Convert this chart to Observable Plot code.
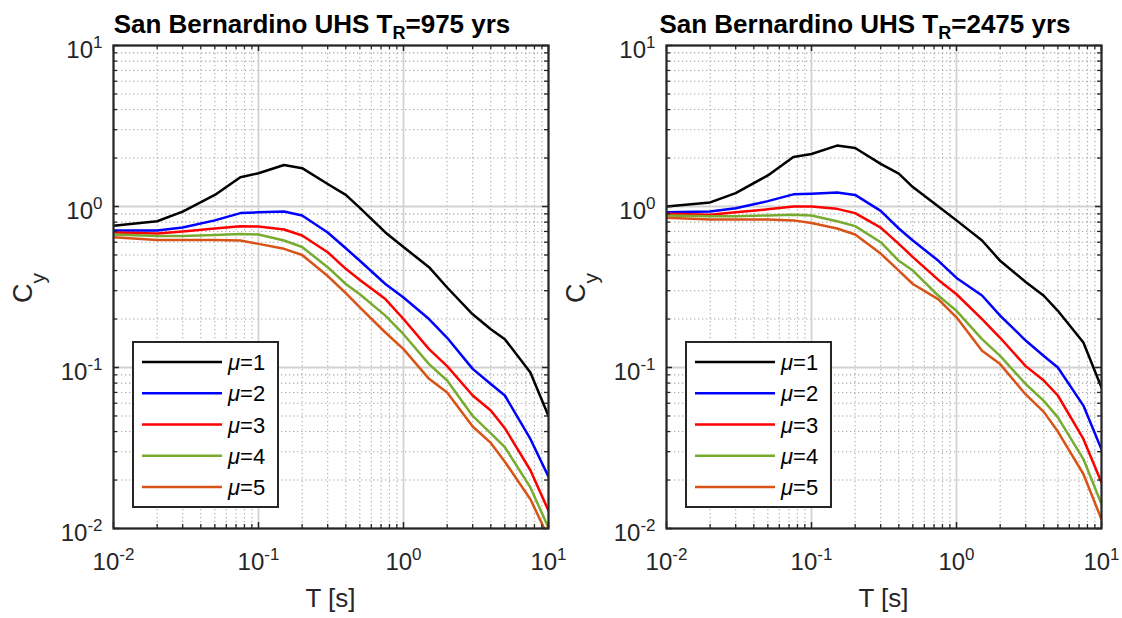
<!DOCTYPE html>
<html>
<head>
<meta charset="utf-8">
<script src="https://cdn.jsdelivr.net/npm/d3@7"></script>
<script src="https://cdn.jsdelivr.net/npm/@observablehq/plot@0.6"></script>
<style>
  body { margin: 0; background: #fff; }
  #wrap { position: relative; width: 1122px; height: 618px; overflow: hidden; background: #fff; }
  .panel { position: absolute; top: 0; }
</style>
</head>
<body>
<div id="wrap"></div>
<script>
// ---------- data ----------
const periods = [0.01, 0.02, 0.03, 0.05, 0.075, 0.1, 0.15, 0.2, 0.3, 0.4, 0.5, 0.75, 1, 1.5, 2, 3, 4, 5, 7.5, 10];
const muLabels = ["μ=1", "μ=2", "μ=3", "μ=4", "μ=5"];
const muColors = ["#000000", "#0000ff", "#ff0000", "#77ac30", "#d95319"];
const decadeTicks = [0.01, 0.1, 1, 10];
const minorMultipliers = [2, 3, 4, 5, 6, 7, 8, 9];
const returnPeriods = ["975", "2475"];

// T_R = 975 yrs
const mu1_975 = [0.76, 0.81, 0.93, 1.18, 1.52, 1.61, 1.81, 1.73, 1.38, 1.18, 0.98, 0.69, 0.56, 0.42, 0.314, 0.214, 0.173, 0.150, 0.093, 0.050];
const mu2_975 = [0.71, 0.71, 0.74, 0.82, 0.91, 0.92, 0.93, 0.88, 0.69, 0.55, 0.46, 0.33, 0.272, 0.20, 0.153, 0.098, 0.079, 0.067, 0.036, 0.021];
const mu3_975 = [0.69, 0.68, 0.70, 0.73, 0.755, 0.75, 0.72, 0.66, 0.52, 0.41, 0.35, 0.266, 0.20, 0.130, 0.102, 0.067, 0.054, 0.042, 0.023, 0.0129];
const mu4_975 = [0.67, 0.655, 0.655, 0.665, 0.676, 0.67, 0.615, 0.56, 0.42, 0.33, 0.285, 0.21, 0.161, 0.105, 0.083, 0.050, 0.039, 0.032, 0.018, 0.0101];
const mu5_975 = [0.645, 0.62, 0.62, 0.62, 0.615, 0.586, 0.546, 0.50, 0.37, 0.29, 0.236, 0.165, 0.13, 0.085, 0.070, 0.043, 0.034, 0.026, 0.0152, 0.0088];

// T_R = 2475 yrs
const mu1_2475 = [1.0, 1.06, 1.21, 1.56, 2.03, 2.12, 2.39, 2.31, 1.84, 1.60, 1.32, 1.0, 0.82, 0.615, 0.46, 0.34, 0.279, 0.225, 0.143, 0.075];
const mu2_2475 = [0.92, 0.93, 0.976, 1.08, 1.19, 1.2, 1.22, 1.18, 0.94, 0.73, 0.615, 0.46, 0.36, 0.28, 0.21, 0.147, 0.118, 0.10, 0.058, 0.031];
const mu3_2475 = [0.90, 0.89, 0.92, 0.96, 1.0, 1.0, 0.967, 0.91, 0.74, 0.586, 0.485, 0.35, 0.285, 0.20, 0.153, 0.102, 0.083, 0.067, 0.036, 0.0193];
const mu4_2475 = [0.88, 0.87, 0.87, 0.88, 0.89, 0.88, 0.81, 0.755, 0.60, 0.46, 0.40, 0.279, 0.225, 0.150, 0.118, 0.079, 0.062, 0.049, 0.027, 0.0142];
const mu5_2475 = [0.85, 0.83, 0.83, 0.83, 0.82, 0.79, 0.73, 0.67, 0.51, 0.40, 0.33, 0.265, 0.205, 0.127, 0.105, 0.068, 0.053, 0.040, 0.0218, 0.0114];

// ---------- drawing ----------
const FONT = "'Liberation Sans', Arial, Helvetica, sans-serif";
const W = 561, H = 618, mL = 113, mR = 13, mT = 45, mB = 90;
const pw = W - mL - mR, ph = H - mT - mB;
const majorLen = 6, minorLen = 4;

function supFormat(d) { return "10^" + Math.round(Math.log10(d)); }

function makePanel(series, tr, offsetX) {
  const data = series.flatMap((vals, i) => vals.map((v, j) => ({T: periods[j], Cy: v, mu: muLabels[i]})));
  const minor = decadeTicks.slice(0, -1).flatMap(d => minorMultipliers.map(k => k * d));

  const svg = Plot.plot({
    width: W, height: H,
    marginLeft: mL, marginRight: mR, marginTop: mT, marginBottom: mB,
    style: {fontFamily: FONT, fontSize: "24px", color: "#262626", background: "transparent", overflow: "visible"},
    x: {type: "log", domain: [0.01, 10]},
    y: {type: "log", domain: [0.01, 10]},
    color: {domain: muLabels, range: muColors},
    marks: [
      // minor grid (dotted)
      Plot.ruleX(minor, {stroke: "#a8a8a8", strokeWidth: 1.1, strokeDasharray: "1.3,2.7"}),
      Plot.ruleY(minor, {stroke: "#a8a8a8", strokeWidth: 1.1, strokeDasharray: "1.3,2.7"}),
      // major grid
      Plot.ruleX(decadeTicks, {stroke: "#d2d2d2", strokeWidth: 1.8}),
      Plot.ruleY(decadeTicks, {stroke: "#d2d2d2", strokeWidth: 1.8}),
      // curves
      Plot.line(data, {x: "T", y: "Cy", z: "mu", stroke: "mu", strokeWidth: 2.5, clip: true, strokeLinejoin: "round"}),
      // inward ticks, all four sides
      Plot.tickX(decadeTicks, {stroke: "#262626", strokeWidth: 1.5, insetTop: ph - majorLen}),
      Plot.tickX(decadeTicks, {stroke: "#262626", strokeWidth: 1.5, insetBottom: ph - majorLen}),
      Plot.tickX(minor, {stroke: "#262626", strokeWidth: 1.3, insetTop: ph - minorLen}),
      Plot.tickX(minor, {stroke: "#262626", strokeWidth: 1.3, insetBottom: ph - minorLen}),
      Plot.tickY(decadeTicks, {stroke: "#262626", strokeWidth: 1.5, insetRight: pw - majorLen}),
      Plot.tickY(decadeTicks, {stroke: "#262626", strokeWidth: 1.5, insetLeft: pw - majorLen}),
      Plot.tickY(minor, {stroke: "#262626", strokeWidth: 1.3, insetRight: pw - minorLen}),
      Plot.tickY(minor, {stroke: "#262626", strokeWidth: 1.3, insetLeft: pw - minorLen}),
      Plot.frame({stroke: "#262626", strokeWidth: 2.2}),
      Plot.axisX({ticks: decadeTicks, tickSize: 0, tickPadding: 24, tickFormat: supFormat, label: null, fill: "#262626"}),
      Plot.axisY({ticks: decadeTicks, tickSize: 0, tickPadding: 11, dy: 5, tickFormat: supFormat, label: null, fill: "#262626"})
    ]
  });

  const s = d3.select(svg);
  // superscript exponents on tick labels
  s.selectAll('g[aria-label="x-axis tick label"] text, g[aria-label="y-axis tick label"] text').each(function () {
    const txt = this.textContent;
    const [base, exp] = txt.split("^");
    this.textContent = "";
    const t = d3.select(this);
    t.append("tspan").text(base);
    t.append("tspan").attr("font-size", 17).attr("dy", -10).text(exp);
  });

  // title
  const title = s.append("text")
    .attr("x", 312).attr("y", 33)
    .attr("text-anchor", "middle")
    .attr("font-family", FONT).attr("font-weight", "bold").attr("font-size", 26).attr("fill", "#000");
  title.append("tspan").text("San Bernardino UHS T");
  title.append("tspan").attr("font-size", 18).attr("dy", 6).text("R");
  title.append("tspan").attr("dy", -6).text(`=${tr} yrs`);

  // x label
  s.append("text")
    .attr("x", mL + pw / 2).attr("y", 607)
    .attr("text-anchor", "middle")
    .attr("font-family", FONT).attr("font-size", 26).attr("fill", "#262626")
    .text("T [s]");

  // y label
  const yl = s.append("text")
    .attr("transform", "translate(32,303) rotate(-90)")
    .attr("text-anchor", "start")
    .attr("font-family", FONT).attr("font-size", 27).attr("fill", "#262626");
  yl.append("tspan").text("C");
  yl.append("tspan").attr("font-size", 21).attr("dy", 13).text("y");

  // legend
  const lg = s.append("g");
  lg.append("rect").attr("x", 133).attr("y", 342).attr("width", 145).attr("height", 165)
    .attr("fill", "#fff").attr("stroke", "#262626").attr("stroke-width", 2);
  muLabels.forEach((lab, i) => {
    const yy = 362 + i * 31.25;
    lg.append("line").attr("x1", 142).attr("x2", 222).attr("y1", yy).attr("y2", yy)
      .attr("stroke", muColors[i]).attr("stroke-width", 2.5);
    const tx = lg.append("text").attr("x", 228).attr("y", yy + 8)
      .attr("text-anchor", "start")
      .attr("font-family", FONT).attr("font-size", 22).attr("fill", "#000");
    tx.append("tspan").attr("font-style", "italic").text(lab.slice(0, 1));
    tx.append("tspan").text(lab.slice(1));
  });

  const div = document.createElement("div");
  div.className = "panel";
  div.style.left = offsetX + "px";
  div.appendChild(svg);
  document.getElementById("wrap").appendChild(div);
}

makePanel([mu1_975, mu2_975, mu3_975, mu4_975, mu5_975], returnPeriods[0], 0);
makePanel([mu1_2475, mu2_2475, mu3_2475, mu4_2475, mu5_2475], returnPeriods[1], 553);
</script>
</body>
</html>
